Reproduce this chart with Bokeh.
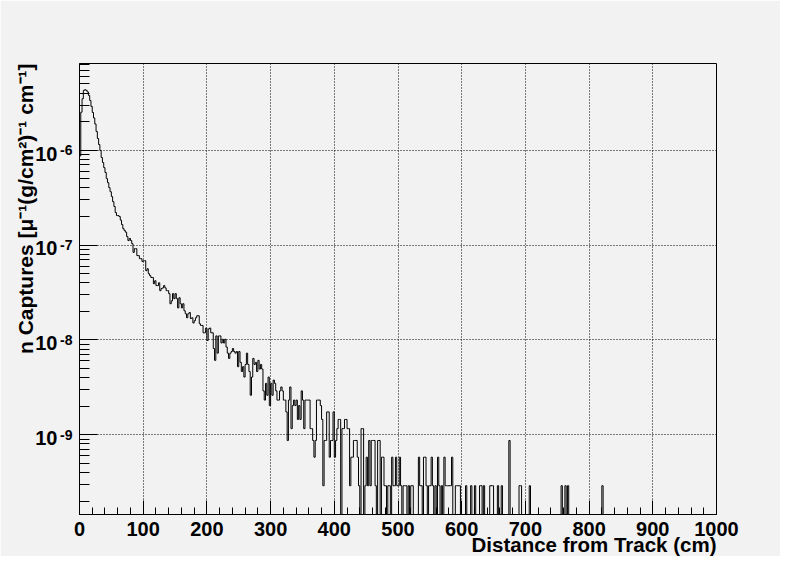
import math
import numpy as np
from bokeh.plotting import figure
from bokeh.models import (FixedTicker, SingleIntervalTicker, Range1d, Title, LogAxis,
                          LogScale, CustomJSTickFormatter)
from bokeh.embed import file_html
from bokeh.resources import INLINE

# ---------------- data ----------------
bin_width_cm = 2.0          # 500 bins over 0-1000 cm
count_scale = 2.90e-10      # value of one entry  [mu^-1 (g/cm2)^-1 cm^-1]

counts_0_39 = [3000, 8690, 12050, 14750, 15000, 14750, 14220, 13060, 11560, 10000,
               8630, 7550, 6530, 5440, 4590, 3960, 3430, 2890, 2560, 2260,
               2010, 1730, 1570, 1390, 1260, 1120, 990, 880, 760, 706,
               706, 690, 632, 567, 514, 490, 472, 424, 385, 405]
counts_40_74 = [385, 357, 289, 316, 316, 267, 267, 248, 248, 232,
                236, 236, 185, 194, 172, 164, 157, 157, 135, 145,
                129, 129, 138, 114, 120, 122, 129, 122, 114, 114,
                106, 83, 89, 106, 94]
counts_75_141 = [106, 94, 75, 96, 83, 75, 83, 70, 65, 59,
                 65, 67, 58, 59, 52, 55, 59, 62, 62, 51,
                 49, 49, 41, 41, 46, 34, 45, 46, 41, 41,
                 28, 21, 38, 25, 38, 38, 32, 35, 32, 35,
                 29, 25, 22, 25, 26, 28,
                 26, 25, 26, 18, 26, 20, 16, 18, 14, 19,
                 25, 19, 16, 9, 14, 22, 19, 20, 16, 21, 17]
counts_142_185 = [19, 17, 10, 8, 12, 9, 14, 7, 12, 9,
                  13, 12, 10, 8, 8, 10, 11, 10, 8, 8,
                  6, 3, 8, 11, 4, 7, 8, 7, 8, 5,
                  7, 5, 10, 8, 4, 8, 8, 8, 8, 4,
                  4, 3, 2, 3]
counts_186_249 = [8, 8, 8, 7, 5, 1, 3, 3, 6, 6,
                  2, 3, 3, 6, 2, 3, 4, 5, 5, 0,
                  4, 4, 5, 5, 4, 4, 1, 2, 2, 3,
                  3, 3, 2, 1, 0, 4, 4, 0, 1, 2,
                  1, 3, 1, 3, 3, 3, 1, 0, 3, 3,
                  0, 2, 2, 1, 1, 0, 1, 1, 0, 2,
                  1, 1, 2, 1]
counts_250_299 = [1, 2, 1, 0, 1, 1, 1, 0, 1, 0,
                  1, 1, 0, 0, 0, 0, 2, 1, 1, 0,
                  2, 2, 1, 0, 1, 1, 2, 1, 0, 1,
                  0, 2, 1, 0, 1, 0, 2, 1, 1, 1,
                  1, 1, 2, 0, 0, 1, 1, 1, 1, 0]
counts_300_349 = [0, 0, 0, 1, 0, 0, 0, 1, 0, 0,
                  1, 0, 0, 0, 1, 1, 0, 1, 0, 0,
                  0, 0, 1, 1, 1, 0, 0, 0, 1, 0,
                  0, 1, 0, 0, 0, 0, 0, 3, 0, 0,
                  0, 0, 0, 0, 0, 1, 1, 0, 0, 0]
counts_350_419 = [0, 0, 0, 1, 0, 0, 0, 0, 0, 0,
                  0, 0, 0, 0, 0, 0, 0, 0, 0, 0,
                  0, 0, 0, 0, 0, 0, 0, 0, 1, 0,
                  0, 1, 0, 1, 0, 0, 0, 0, 0, 0,
                  0, 0, 0, 0, 0, 0, 0, 0, 0, 0,
                  0, 0, 0, 0, 0, 0, 0, 0, 0, 0,
                  1, 0, 0, 0, 0, 0, 0, 0, 0, 0]
counts_420_499 = [0] * 80

x_tick_labels = [str(v) for v in range(0, 1001, 100)]
y_decades = [1e-9, 1e-8, 1e-7, 1e-6]
x_title = "Distance from Track (cm)"
y_title = "n Captures [\u03bc\u207b\u00b9(g/cm\u00b2)\u207b\u00b9 cm\u207b\u00b9]"

counts = (counts_0_39 + counts_40_74 + counts_75_141 + counts_142_185 +
          counts_186_249 + counts_250_299 + counts_300_349 + counts_350_419 +
          counts_420_499)
assert len(counts) == 500

# ---------------- build ----------------
y_lo, y_hi = 1.442e-10, 8.22e-6
edges = np.arange(len(counts) + 1) * bin_width_cm
vals = np.array(counts, dtype=float) * count_scale
floor = y_lo * 1e-3                    # empty bins drop below the frame
vals_plot = np.where(vals > 0, vals, floor)
ys = np.append(vals_plot, floor)

BG = "#f2f2f2"
FONT = "Liberation Sans"
FRAME_H = 451.0
shift = 10 ** (3.3 * math.log10(y_hi / y_lo) / FRAME_H)   # moves the "10" labels 3 px down

p = figure(width=780, height=556, x_range=Range1d(0, 1000), y_range=Range1d(y_lo, y_hi),
           y_axis_type="log", output_backend="svg", toolbar_location=None,
           min_border_left=79, min_border_right=64, min_border_top=63, min_border_bottom=42)
p.title.visible = False
p.background_fill_color = BG
p.border_fill_color = BG
p.outline_line_color = "black"
p.outline_line_width = 1
p.extra_y_ranges = {"lab": Range1d(y_lo * shift, y_hi * shift)}
p.extra_y_scales = {"lab": LogScale()}

p.step(edges, ys, mode="after", line_color="black", line_width=1)

# x axis
p.xaxis.ticker = SingleIntervalTicker(interval=100, num_minor_ticks=5)
p.xaxis.major_label_overrides = {i * 100: t for i, t in enumerate(x_tick_labels)}
# y axis (ticks + exponent part of the labels)
minor = [m * 10.0 ** e for e in range(-11, -4) for m in range(2, 10)]
p.yaxis.ticker = FixedTicker(ticks=y_decades, minor_ticks=minor)
p.yaxis.formatter = CustomJSTickFormatter(code="return String(Math.round(Math.log10(tick)));")

for ax in (p.xaxis[0], p.yaxis[0]):
    ax.axis_line_color = "black"
    ax.major_tick_line_color = "black"
    ax.minor_tick_line_color = "black"
    ax.major_tick_out = 0
    ax.minor_tick_out = 0
    ax.major_label_text_font = FONT
    ax.major_label_text_font_style = "bold"
    ax.major_label_text_font_size = "20px"
    ax.major_label_text_color = "black"
p.xaxis.major_tick_in = 14
p.xaxis.minor_tick_in = 7
p.xaxis.major_label_standoff = 7
p.yaxis.major_tick_in = 18
p.yaxis.minor_tick_in = 10
p.yaxis.major_label_text_font_size = "14px"
p.yaxis.major_label_standoff = 7

# base "10" of the y labels, on a second (tickless) axis just left of the exponents
base_axis = LogAxis(y_range_name="lab", ticker=FixedTicker(ticks=y_decades),
                    formatter=CustomJSTickFormatter(code="return '10';"),
                    axis_line_color=None, major_tick_line_color=None, minor_tick_line_color=None,
                    major_tick_in=0, major_tick_out=0, minor_tick_in=0, minor_tick_out=0,
                    major_label_standoff=0, major_label_text_font=FONT,
                    major_label_text_font_style="bold", major_label_text_font_size="20px",
                    major_label_text_color="black")
p.add_layout(base_axis, "left")

for g in (p.xgrid[0], p.ygrid[0]):
    g.grid_line_color = "black"
    g.grid_line_dash = "1 2"
    g.grid_line_width = 1

p.add_layout(Title(text=y_title, align="right", text_font=FONT, text_font_style="bold",
                   text_font_size="21px", text_color="black", standoff=-8), "left")
p.add_layout(Title(text=x_title, align="right", text_font=FONT, text_font_style="bold",
                   text_font_size="20.5px", text_color="black", standoff=-15), "below")

open("out.html", "w").write(file_html(p, INLINE))
